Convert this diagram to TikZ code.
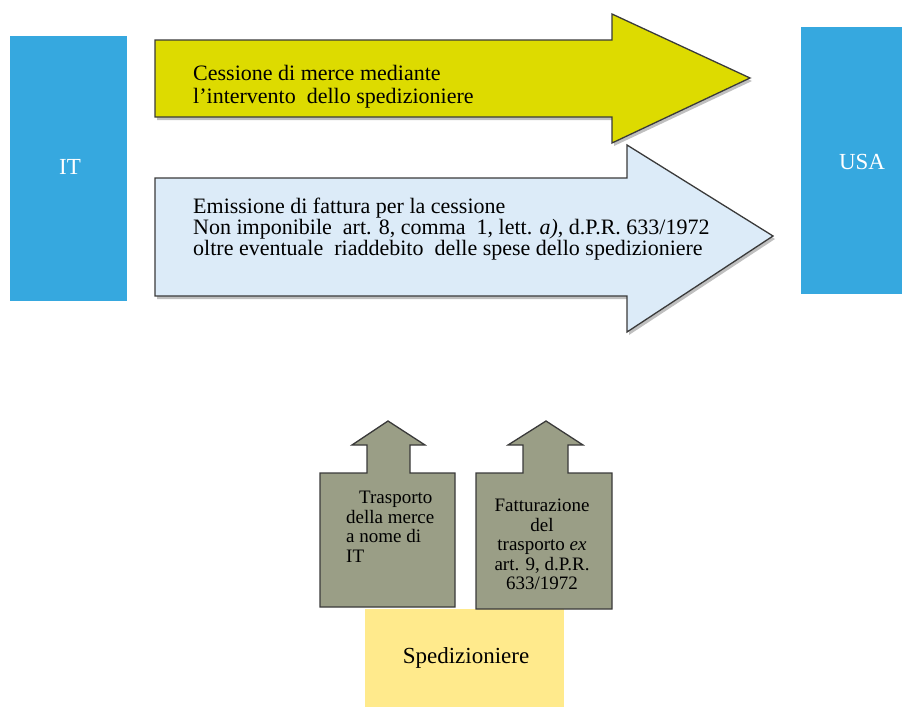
\documentclass[tikz,border=0pt]{standalone}
\usepackage{fontspec}
\setmainfont{Liberation Serif}
\definecolor{cblue}{HTML}{36A8DF}
\definecolor{cyel}{HTML}{DDDB00}
\definecolor{clblue}{HTML}{DCEBF8}
\definecolor{cgray}{HTML}{9A9E86}
\definecolor{cpale}{HTML}{FFEA8C}
\definecolor{cedge}{HTML}{3A3A3A}
\tikzset{
  shapeline/.style={draw=cedge, line width=1.3pt, line join=miter},
  bigtxt/.style={font=\fontsize{22}{22}\selectfont, align=left, anchor=west, inner sep=0pt},
  smalltxt/.style={font=\fontsize{19}{19.5}\selectfont, inner sep=0pt},
  countrytxt/.style={font=\fontsize{23}{24}\selectfont, text=white, inner sep=0pt}
}
\begin{document}
\begin{tikzpicture}[x=1pt,y=-1pt]
\useasboundingbox (0,0) rectangle (902,707);
% country boxes
\fill[cblue] (10,36) rectangle (127,301);
\node[countrytxt] (it) at (70,167) {IT};
\fill[cblue] (801,27) rectangle (902,294);
\node[countrytxt] (usa) at (862,162) {USA};
% yellow arrow
\fill[black!25] (157,43) -- (614,43) -- (614,17) -- (752,81) -- (614,146) -- (614,120) -- (157,120) -- cycle;
\draw[shapeline, fill=cyel] (155,40) -- (612,40) -- (612,14) -- (750,78) -- (612,143) -- (612,117) -- (155,117) -- cycle;
\node[bigtxt, font=\fontsize{22}{23}\selectfont] (t1) at (193,87) {Cessione di merce mediante\\l’intervento \ dello spedizioniere};
% light blue arrow
\fill[black!25] (157,181) -- (629,181) -- (629,148) -- (775,239) -- (629,335) -- (629,299) -- (157,299) -- cycle;
\draw[shapeline, fill=clblue] (155,178) -- (627,178) -- (627,145) -- (773,236) -- (627,332) -- (627,296) -- (155,296) -- cycle;
\node[bigtxt, font=\fontsize{22}{21}\selectfont] (t2) at (193,229) {Emissione di fattura per la cessione\\Non imponibile \ art. 8, comma \ 1, lett. \textit{a)}, d.P.R. 633/1972\\oltre eventuale \ riaddebito \ delle spese dello spedizioniere};
% pale yellow box
\fill[cpale] (365,609) rectangle (564,707);
\node[font=\fontsize{23}{24}\selectfont, inner sep=0pt] (sp) at (466,658) {Spedizioniere};
% gray arrows
\draw[shapeline, fill=cgray] (320,607) -- (320,473) -- (367,473) -- (367,445) -- (352,445) -- (388,421) -- (425,445) -- (410,445) -- (410,473) -- (455,473) -- (455,607) -- cycle;
\node[smalltxt, align=left, anchor=north west] (g1) at (346,491) {\hspace{13pt}Trasporto\\della merce\\a nome di\\IT};
\draw[shapeline, fill=cgray] (476,609) -- (476,473) -- (523,473) -- (523,445) -- (508,445) -- (546,421) -- (583,445) -- (568,445) -- (568,473) -- (612,473) -- (612,609) -- cycle;
\node[smalltxt, align=center, anchor=north] (g2) at (542,499) {Fatturazione\\del\\trasporto \textit{ex}\\art. 9, d.P.R.\\633/1972};
\end{tikzpicture}
\end{document}
